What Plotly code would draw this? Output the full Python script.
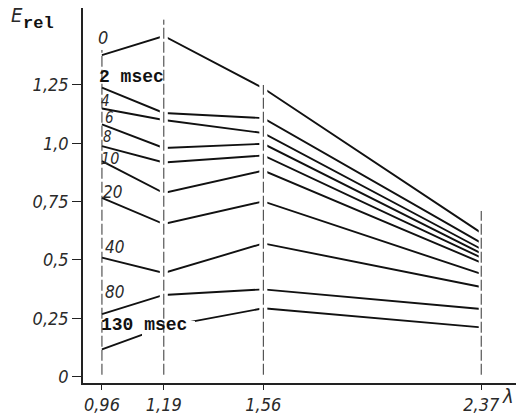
import plotly.graph_objects as go

# ---- data ----
lam = [0.96, 1.19, 1.56, 2.37]
lam_text = ["0,96", "1,19", "1,56", "2,37"]

y_ticks = [0, 0.25, 0.5, 0.75, 1.0, 1.25]
y_text = ["0", "0,25", "0,5", "0,75", "1,0", "1,25"]

e_0ms = [1.378, 1.460, 1.236, 0.616]
e_2ms = [1.239, 1.130, 1.108, 0.573]
e_4ms = [1.149, 1.100, 1.044, 0.547]
e_6ms = [1.081, 0.980, 0.998, 0.528]
e_8ms = [0.988, 0.918, 0.948, 0.510]
e_10ms = [0.924, 0.787, 0.883, 0.489]
e_20ms = [0.766, 0.654, 0.751, 0.440]
e_40ms = [0.510, 0.444, 0.571, 0.384]
e_80ms = [0.268, 0.350, 0.374, 0.290]
e_130ms = [0.117, 0.213, 0.293, 0.211]

series = [e_0ms, e_2ms, e_4ms, e_6ms, e_8ms, e_10ms, e_20ms, e_40ms, e_80ms, e_130ms]
series_names = ["0", "2 msec", "4", "6", "8", "10", "20", "40", "80", "130 msec"]

# dashed guide tops (E value) at each lambda
guide_top = [1.40, 1.53, 1.25, 0.71]

# ---- layout geometry ----
W, H = 516, 418
ML, MR, MT, MB = 83, 0, 8, 35
X_RANGE = [0.8896, 2.4993]
Y_RANGE = [-0.0274, 1.580]


def px_x(p):
    return X_RANGE[0] + (p - ML) / (W - ML - MR) * (X_RANGE[1] - X_RANGE[0])


def px_y(p):
    return Y_RANGE[0] + (H - MB - p) / (H - MT - MB) * (Y_RANGE[1] - Y_RANGE[0])


def ppx(p):  # paper x
    return (p - ML) / (W - ML - MR)


def ppy(p):  # paper y
    return (H - MB - p) / (H - MT - MB)


HAND = "Liberation Sans Narrow, DejaVu Sans Condensed, Liberation Sans, sans-serif"
MONO = "Liberation Mono, DejaVu Sans Mono, Courier New, monospace"
TXT = "#2a2a2a"

fig = go.Figure()
for vals, name in zip(series, series_names):
    fig.add_trace(go.Scatter(x=lam, y=vals, mode="lines", name=name,
                             line=dict(color="#111111", width=1.9),
                             showlegend=False, hoverinfo="skip"))

shapes = []
# white gaps where lines break at the guides
for lv, wdt in [(1.19, 8), (1.56, 8), (2.37, 5)]:
    shapes.append(dict(type="line", xref="x", yref="y", x0=lv, x1=lv,
                       y0=0.02, y1=1.56, layer="above",
                       line=dict(color="white", width=wdt)))
# gap in the 130 msec line under its label
shapes.append(dict(type="rect", xref="x", yref="y",
                   x0=px_x(142), x1=px_x(195), y0=px_y(345), y1=px_y(321),
                   layer="above", line=dict(width=0), fillcolor="white"))
# dashed vertical guides
for lv, top in zip(lam, guide_top):
    shapes.append(dict(type="line", xref="x", yref="y", x0=lv, x1=lv,
                       y0=0.008, y1=top, layer="above",
                       line=dict(color="#333333", width=1, dash="11px,3px")))

annotations = []
hand_labels = [("0", 103, 37, 18), ("4", 105, 101, 15), ("6", 109, 118, 15),
               ("8", 107, 137, 15), ("10", 110, 158, 16), ("20", 112, 192, 17),
               ("40", 114, 247, 17), ("80", 114, 292, 17)]
for t, x, y, s in hand_labels:
    annotations.append(dict(x=px_x(x), y=px_y(y), xref="x", yref="y",
                            text="<i>" + t + "</i>", showarrow=False,
                            xanchor="center", yanchor="middle",
                            font=dict(family=HAND, size=s, color=TXT)))
annotations.append(dict(x=px_x(97), y=px_y(77), xref="x", yref="y",
                        text="<b>2 msec</b>", showarrow=False,
                        xanchor="left", yanchor="middle",
                        font=dict(family=MONO, size=18, color="#111")))
annotations.append(dict(x=px_x(99), y=px_y(325), xref="x", yref="y",
                        text="<b>130 msec</b>", showarrow=False,
                        xanchor="left", yanchor="middle",
                        font=dict(family=MONO, size=18, color="#111")))
# axis titles
annotations.append(dict(x=ppx(17), y=ppy(15), xref="paper", yref="paper",
                        text="<i>E</i>", showarrow=False, xanchor="center", yanchor="middle",
                        font=dict(family=HAND, size=20, color=TXT)))
annotations.append(dict(x=ppx(38), y=ppy(24), xref="paper", yref="paper",
                        text="<b>rel</b>", showarrow=False, xanchor="center", yanchor="middle",
                        font=dict(family=MONO, size=17, color="#111")))
annotations.append(dict(x=ppx(508), y=ppy(396), xref="paper", yref="paper",
                        text="<i>λ</i>", showarrow=False, xanchor="center", yanchor="middle",
                        font=dict(family=HAND, size=20, color=TXT)))

fig.update_layout(
    width=W, height=H,
    margin=dict(l=ML, r=MR, t=MT, b=MB, pad=0),
    paper_bgcolor="white", plot_bgcolor="white",
    shapes=shapes, annotations=annotations,
    xaxis=dict(range=X_RANGE, showgrid=False, zeroline=False,
               showline=True, linecolor="#222", linewidth=1.5,
               tickmode="array", tickvals=lam,
               ticktext=["<i>" + t + "</i>" for t in lam_text],
               ticks="outside", ticklen=5, tickcolor="#222", tickwidth=1,
               tickfont=dict(family=HAND, size=18, color=TXT)),
    yaxis=dict(range=Y_RANGE, showgrid=False, zeroline=False,
               showline=True, linecolor="#222", linewidth=1.5,
               tickmode="array", tickvals=y_ticks,
               ticktext=["<i>" + t + "</i>" for t in y_text],
               ticks="outside", ticklen=9, tickcolor="#222", tickwidth=1,
               tickfont=dict(family=HAND, size=18, color=TXT)),
)

fig.write_html("out.html")
